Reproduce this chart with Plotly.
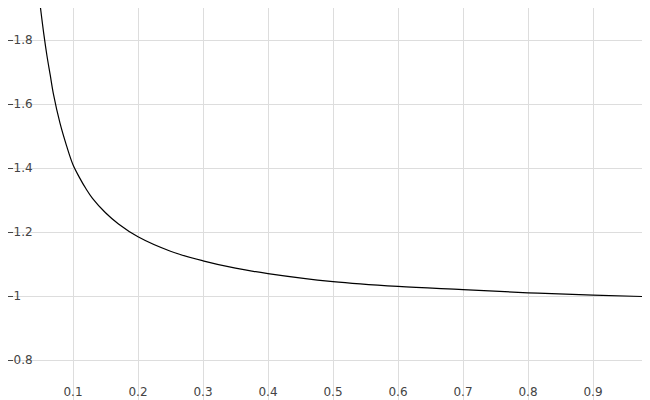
import plotly.graph_objects as go

# values
x_vals = [0.05, 0.055, 0.06, 0.065, 0.07, 0.08, 0.09, 0.1, 0.11, 0.12, 0.13, 0.15, 0.17, 0.2, 0.25, 0.3, 0.35, 0.4, 0.5, 0.6, 0.7, 0.8, 0.9, 1.0]
y_vals = [1.9, 1.82, 1.75, 1.69, 1.63, 1.54, 1.47, 1.41, 1.37, 1.335, 1.305, 1.26, 1.225, 1.185, 1.14, 1.11, 1.087, 1.07, 1.045, 1.03, 1.02, 1.01, 1.003, 0.997]
x_ticks = [0.1, 0.2, 0.3, 0.4, 0.5, 0.6, 0.7, 0.8, 0.9]
y_ticks = [0.8, 1.0, 1.2, 1.4, 1.6, 1.8]
y_labels = ['0.8', '1', '1.2', '1.4', '1.6', '1.8']

fig = go.Figure()
fig.add_trace(go.Scatter(x=x_vals, y=y_vals, mode='lines',
                         line=dict(color='black', width=1.2, shape='spline', smoothing=1.0)))
fig.update_layout(
    width=650, height=400,
    margin=dict(l=0, r=0, t=0, b=0, pad=0, autoexpand=False),
    plot_bgcolor='white', paper_bgcolor='white', showlegend=False,
    font=dict(family='DejaVu Sans', size=12, color='black'),
)
fig.update_xaxes(range=[0, 1.0], tickvals=x_ticks, ticks='inside', ticklen=5,
                 ticklabelposition='inside', ticklabelstandoff=4,
                 gridcolor='#dddddd', showline=False, zeroline=False)
fig.update_yaxes(range=[0.65, 1.9], tickvals=y_ticks, ticktext=y_labels,
                 ticks='inside', ticklen=5, ticklabelposition='inside',
                 gridcolor='#dddddd', showline=False, zeroline=False)
fig.write_html("out.html")
